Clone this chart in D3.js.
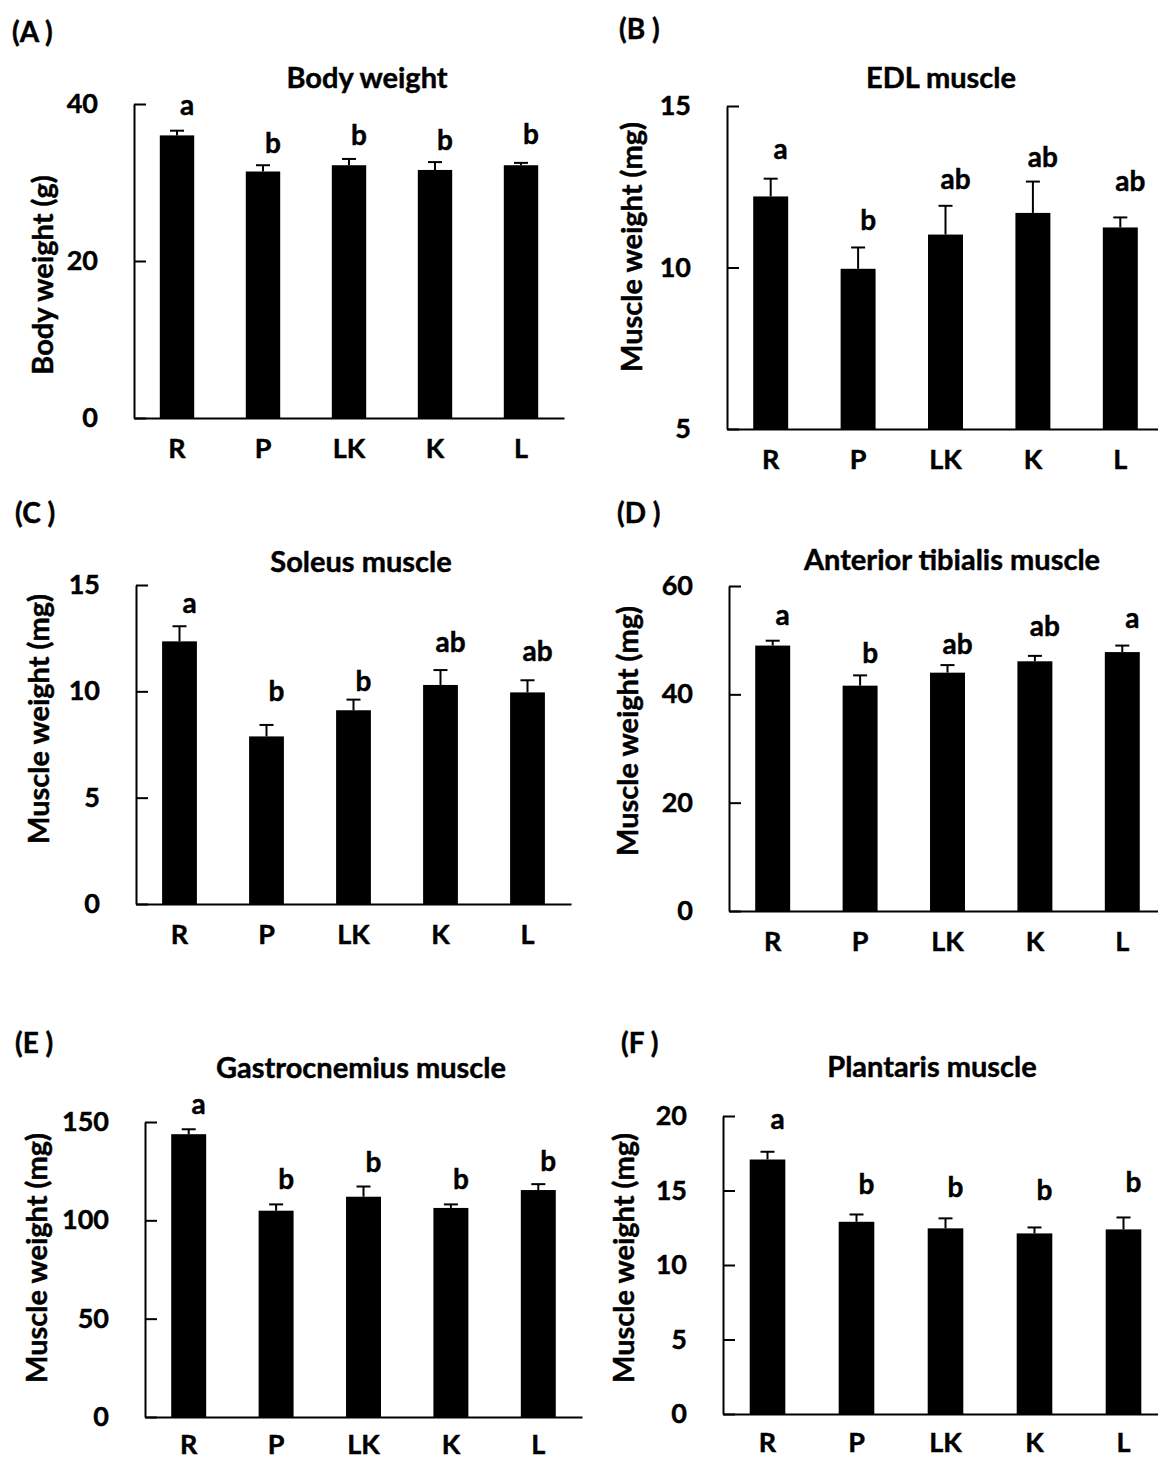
<!DOCTYPE html>
<html>
<head>
<meta charset="utf-8">
<script src="https://cdn.jsdelivr.net/npm/d3@7"></script>
<style>
  html, body { margin: 0; padding: 0; background: #fff; }
  svg text { font-family: Lato, "Open Sans", sans-serif; font-weight: 700; fill: #000; stroke: #000; stroke-width: 0.45px; }
</style>
</head>
<body>
<svg id="fig" width="1158" height="1461"></svg>
<script>
// Groups shown on every x axis
const groups = ["R", "P", "LK", "K", "L"];

// (A) Body weight (g): mean, SE, significance letters and the level each letter sits at
const bodyWeight = [36.0, 31.4, 32.2, 31.6, 32.2];
const bodyWeightSE = [0.6, 0.8, 0.8, 1.0, 0.3];
const bodyWeightLetters = ["a", "b", "b", "b", "b"];
const bodyWeightLetterAt = [38.6, 33.7, 34.8, 34.2, 34.9];
const bodyWeightTicks = [0, 20, 40];

// (B) EDL muscle (mg)
const edl = [12.2, 9.96, 11.02, 11.69, 11.24];
const edlSE = [0.55, 0.66, 0.89, 0.97, 0.31];
const edlLetters = ["a", "b", "ab", "ab", "ab"];
const edlLetterAt = [13.36, 11.15, 12.44, 13.1, 12.37];
const edlTicks = [5, 10, 15];

// (C) Soleus muscle (mg)
const soleus = [12.35, 7.88, 9.11, 10.30, 9.95];
const soleusSE = [0.71, 0.54, 0.50, 0.70, 0.57];
const soleusLetters = ["a", "b", "b", "ab", "ab"];
const soleusLetterAt = [13.68, 9.53, 10.03, 11.85, 11.44];
const soleusTicks = [0, 5, 10, 15];

// (D) Anterior tibialis muscle (mg)
const tibialis = [49.0, 41.6, 44.0, 46.1, 47.8];
const tibialisSE = [0.9, 1.9, 1.4, 1.0, 1.2];
const tibialisLetters = ["a", "b", "ab", "ab", "a"];
const tibialisLetterAt = [52.8, 45.7, 47.5, 50.8, 52.3];
const tibialisTicks = [0, 20, 40, 60];

// (E) Gastrocnemius muscle (mg)
const gastrocnemius = [143.8, 104.9, 112.0, 106.3, 115.4];
const gastrocnemiusSE = [2.5, 3.2, 5.2, 1.8, 3.0];
const gastrocnemiusLetters = ["a", "b", "b", "b", "b"];
const gastrocnemiusLetterAt = [154, 116, 124.5, 116, 125];
const gastrocnemiusTicks = [0, 50, 100, 150];

// (F) Plantaris muscle (mg)
const plantaris = [17.08, 12.9, 12.46, 12.12, 12.39];
const plantarisSE = [0.52, 0.49, 0.67, 0.40, 0.80];
const plantarisLetters = ["a", "b", "b", "b", "b"];
const plantarisLetterAt = [19.15, 14.75, 14.58, 14.35, 14.9];
const plantarisTicks = [0, 5, 10, 15, 20];

// Panel definitions: data plus frame geometry
const panels = [
  { tag: "(A )", title: "Body weight", yTitle: "Body weight (g)",
    values: bodyWeight, se: bodyWeightSE, letters: bodyWeightLetters, letterAt: bodyWeightLetterAt, ticks: bodyWeightTicks,
    x0: 134, x1: 564, yBase: 418, yTop: 104, xPad: 21, titleX: 367, titleY: 78, tagX: 12, tagY: 31, yTitleX: 41, yTitleY: 275 },
  { tag: "(B )", title: "EDL muscle", yTitle: "Muscle weight (mg)",
    values: edl, se: edlSE, letters: edlLetters, letterAt: edlLetterAt, ticks: edlTicks,
    x0: 727, x1: 1164, yBase: 429, yTop: 106, xPad: 21, titleX: 941, titleY: 78, tagX: 619, tagY: 28, yTitleX: 630, yTitleY: 247 },
  { tag: "(C )", title: "Soleus muscle", yTitle: "Muscle weight (mg)",
    values: soleus, se: soleusSE, letters: soleusLetters, letterAt: soleusLetterAt, ticks: soleusTicks,
    x0: 136, x1: 571, yBase: 904, yTop: 585, xPad: 21, titleX: 361, titleY: 562, tagX: 15, tagY: 512, yTitleX: 37, yTitleY: 719 },
  { tag: "(D )", title: "Anterior tibialis muscle", yTitle: "Muscle weight (mg)",
    values: tibialis, se: tibialisSE, letters: tibialisLetters, letterAt: tibialisLetterAt, ticks: tibialisTicks,
    x0: 729, x1: 1166, yBase: 911, yTop: 586, xPad: 21, titleX: 952, titleY: 560, tagX: 617, tagY: 512, yTitleX: 626, yTitleY: 731 },
  { tag: "(E )", title: "Gastrocnemius muscle", yTitle: "Muscle weight (mg)",
    values: gastrocnemius, se: gastrocnemiusSE, letters: gastrocnemiusLetters, letterAt: gastrocnemiusLetterAt, ticks: gastrocnemiusTicks,
    x0: 145, x1: 582, yBase: 1417, yTop: 1122, xPad: 18, titleX: 361, titleY: 1068, tagX: 15, tagY: 1042, yTitleX: 35, yTitleY: 1258 },
  { tag: "(F )", title: "Plantaris muscle", yTitle: "Muscle weight (mg)",
    values: plantaris, se: plantarisSE, letters: plantarisLetters, letterAt: plantarisLetterAt, ticks: plantarisTicks,
    x0: 723, x1: 1168, yBase: 1414, yTop: 1116, xPad: 19, titleX: 932, titleY: 1067, tagX: 621, tagY: 1042, yTitleX: 622, yTitleY: 1258 }
];

const svg = d3.select("#fig");

panels.forEach(p => {
  const g = svg.append("g");
  const ticks = p.ticks;

  const x = d3.scaleBand()
    .domain(groups)
    .range([p.x0, p.x1])
    .paddingInner(0.6)
    .paddingOuter(0.3);

  const y = d3.scaleLinear()
    .domain([ticks[0], ticks[ticks.length - 1]])
    .range([p.yBase, p.yTop]);

  const rows = groups.map((k, i) => ({
    key: k, v: p.values[i], se: p.se[i], letter: p.letters[i], at: p.letterAt[i]
  }));

  // bars
  g.selectAll("rect.bar").data(rows).enter().append("rect")
    .attr("class", "bar")
    .attr("x", d => x(d.key))
    .attr("width", x.bandwidth())
    .attr("y", d => y(d.v))
    .attr("height", d => y(ticks[0]) - y(d.v))
    .attr("fill", "#000");

  // upper error bars
  const cx = d => x(d.key) + x.bandwidth() / 2;
  g.selectAll("line.err").data(rows).enter().append("line")
    .attr("class", "err")
    .attr("x1", cx).attr("x2", cx)
    .attr("y1", d => y(d.v)).attr("y2", d => y(d.v + d.se))
    .attr("stroke", "#000").attr("stroke-width", 2);
  g.selectAll("line.cap").data(rows).enter().append("line")
    .attr("class", "cap")
    .attr("x1", d => cx(d) - 7).attr("x2", d => cx(d) + 7)
    .attr("y1", d => y(d.v + d.se)).attr("y2", d => y(d.v + d.se))
    .attr("stroke", "#000").attr("stroke-width", 2);

  // significance letters
  g.selectAll("text.sig").data(rows).enter().append("text")
    .attr("class", "sig")
    .attr("x", d => cx(d) + 10)
    .attr("y", d => y(d.at))
    .attr("text-anchor", "middle")
    .attr("font-size", 28)
    .text(d => d.letter);

  // y axis with inward ticks
  const yAxis = g.append("g")
    .attr("transform", `translate(${p.x0},0)`)
    .call(d3.axisLeft(y).tickValues(ticks).tickSizeInner(-12).tickSizeOuter(0).tickPadding(36).tickFormat(d3.format("d")));
  yAxis.select(".domain").attr("stroke-width", 2);
  yAxis.selectAll(".tick line").attr("stroke-width", 2);
  yAxis.selectAll(".tick text").attr("font-size", 27).attr("font-family", null).attr("fill", "#000");

  // x axis baseline with group labels
  const xAxis = g.append("g")
    .attr("transform", `translate(0,${p.yBase})`)
    .call(d3.axisBottom(x).tickSize(0).tickPadding(p.xPad));
  xAxis.select(".domain").attr("stroke-width", 2);
  xAxis.selectAll(".tick text").attr("font-size", 27).attr("font-family", null).attr("fill", "#000");

  // chart title
  g.append("text")
    .attr("x", p.titleX).attr("y", p.titleY + 10)
    .attr("text-anchor", "middle")
    .attr("font-size", 29)
    .text(p.title);

  // y axis title
  g.append("text")
    .attr("transform", `translate(${p.yTitleX},${p.yTitleY}) rotate(-90)`)
    .attr("text-anchor", "middle")
    .attr("dominant-baseline", "central")
    .attr("font-size", 29)
    .text(p.yTitle);

  // panel tag
  g.append("text")
    .attr("x", p.tagX).attr("y", p.tagY)
    .attr("dominant-baseline", "central")
    .attr("font-size", 28)
    .text(p.tag);
});
</script>
</body>
</html>
